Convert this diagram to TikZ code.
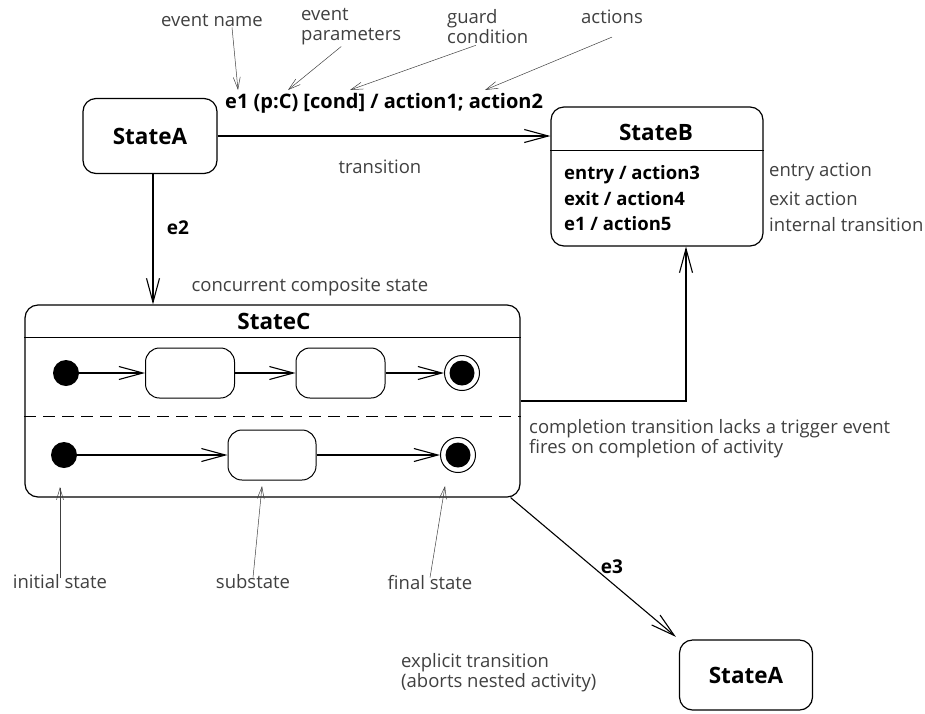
\documentclass[tikz,border=0pt]{standalone}
\usepackage{fontspec}
\setmainfont{Open Sans}
\usetikzlibrary{arrows.meta}

\begin{document}
\begin{tikzpicture}[x=1pt, y=-1pt,
state/.style={draw, rounded corners=13pt, line width=1.2pt, font=\fontsize{22.5}{24}\selectfont\bfseries},
substate/.style={draw, rounded corners=14pt, line width=1pt, minimum width=89pt, minimum height=50pt},
initdot/.style={circle, fill, minimum size=26pt, inner sep=0pt},
finaldot/.style={circle, draw, line width=1pt, minimum size=35pt, inner sep=0pt,
    path picture={\fill (path picture bounding box.center) circle (12.5pt);}},
title/.style={font=\fontsize{22.5}{24}\selectfont\bfseries},
trans/.style={-{Straight Barb[length=24pt, width=13pt]}, line width=1.1pt},
note/.style={-{Straight Barb[length=12pt, width=7pt]}, line width=0.5pt, black!75},
lbl/.style={font=\fontsize{18.5}{25.5}\selectfont\bfseries, inner sep=1pt},
txt/.style={font=\fontsize{18.5}{20}\selectfont, black!75, align=left, inner sep=1pt}
]
\useasboundingbox (0,0) rectangle (925,713);

% states
\node[state, minimum width=134pt, minimum height=75pt] (stateA) at (150,136) {StateA};
\node[state, minimum width=212pt, minimum height=139pt] (stateB) at (657,176.5) {};
\node[title] (titleB) at (656,132) {StateB};
\draw[line width=1.1pt] ([yshift=-44pt]stateB.north west) -- ([yshift=-44pt]stateB.north east);
\node[lbl, anchor=west, align=left] (bodyB) at (563,198.5) {entry / action3\\exit / action4\\e1 / action5};

\node[state, minimum width=495pt, minimum height=192pt] (stateC) at (272.5,401) {};
\node[title] (titleC) at (274,321) {StateC};
\draw[line width=1.1pt] ([yshift=-33pt]stateC.north west) -- ([yshift=-33pt]stateC.north east);
\draw[line width=1.1pt, dash pattern=on 12pt off 7pt] ([yshift=-112pt]stateC.north west) -- ([yshift=-112pt]stateC.north east);

\node[state, minimum width=133pt, minimum height=70pt] (stateA2) at (746,675) {StateA};

% regions of StateC
\node[initdot] (init1) at (66,373) {};
\node[substate] (sub1) at (190,373) {};
\node[substate] (sub2) at (340.5,373) {};
\node[finaldot] (fin1) at (462,373) {};
\node[initdot] (init2) at (64,455) {};
\node[substate, minimum width=88pt] (sub3) at (272,455) {};
\node[finaldot] (fin2) at (458,455) {};

\draw[trans] (init1) -- (sub1);
\draw[trans] (sub1) -- (sub2);
\draw[trans] (sub2) -- (fin1);
\draw[trans] (init2) -- (sub3);
\draw[trans] (sub3) -- (fin2);

% transitions
\draw[trans] (stateA.east) -- (stateA.east -| stateB.west);
\draw[trans] ([xshift=3pt]stateA.south) -- ([xshift=3pt]stateA.south |- stateC.north);
\draw[trans] (stateC.east) -| ([xshift=29pt]stateB.south);
\draw[trans, shorten >=4pt] ([xshift=-10pt]stateC.south east) -- (stateA2.north west);

\node[lbl, font=\fontsize{20}{22}\selectfont\bfseries, anchor=west] (trig) at (224,103) {e1 (p:C) [cond] / action1; action2};
\node[lbl, font=\fontsize{19}{22}\selectfont\bfseries] (lblE2) at (178,228) {e2};
\node[lbl, font=\fontsize{19}{22}\selectfont\bfseries] (lblE3) at (612,567) {e3};

% notes
\node[txt] (evName) at (212,20) {event name};
\node[txt, anchor=west] (evParam) at (300,27) {event\\parameters};
\node[txt, anchor=west] (guard) at (446,27) {guard\\condition};
\node[txt] (actions) at (612,17) {actions};
\coordinate (pName) at (238,90);
\coordinate (pParam) at (288,90);
\coordinate (pGuard) at (350,90);
\coordinate (pAct) at (485,90);
\draw[note] ([xshift=20pt]evName.south) -- (pName);
\draw[note] ([xshift=-10pt]evParam.south) -- (pParam);
\draw[note] ([xshift=-12pt]guard.south) -- (pGuard);
\draw[note] ([yshift=-12pt]actions.south) -- (pAct);

\node[txt] (transNote) at (380,167) {transition};
\node[txt, anchor=west] (entryNote) at (768,172) {entry action};
\node[txt, anchor=west] (exitNote) at (768,199) {exit action};
\node[txt, anchor=west] (intNote) at (768,225) {internal transition};
\node[txt] (concNote) at (310,287) {concurrent composite state};
\node[txt, anchor=west] (complNote) at (528,439) {completion transition lacks a trigger event\\fires on completion of activity};
\node[txt, anchor=west] (explNote) at (400,673) {explicit transition\\(aborts nested activity)};

\node[txt] (initNote) at (60,582) {initial state};
\node[txt] (subNote) at (253,582) {substate};
\node[txt] (finNote) at (430,582) {final state};
\coordinate (pInit) at (60,487);
\coordinate (pSub) at (262,486);
\coordinate (pFin) at (445,486);
\draw[note] ([yshift=-4pt]initNote.north) -- (pInit);
\draw[note] ([yshift=-4pt]subNote.north) -- (pSub);
\draw[note] ([yshift=-4pt]finNote.north) -- (pFin);
\end{tikzpicture}
\end{document}
